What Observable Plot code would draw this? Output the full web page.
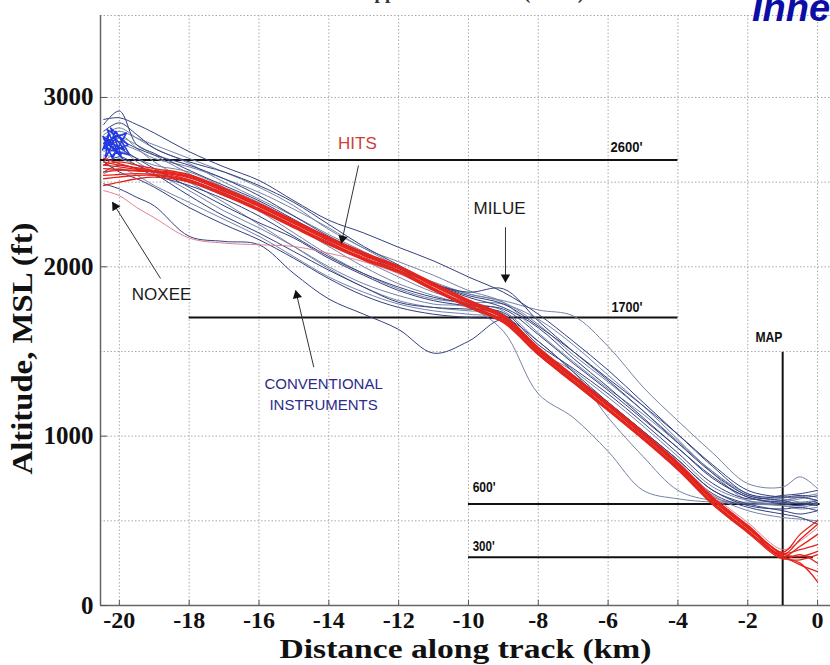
<!DOCTYPE html>
<html><head><meta charset="utf-8">
<script src="https://cdn.jsdelivr.net/npm/d3@7"></script>
<script src="https://cdn.jsdelivr.net/npm/@observablehq/plot@0.6"></script>
<style>
body{margin:0;background:#fff;overflow:hidden;width:830px;height:665px;position:relative}
#chart{position:absolute;left:0;top:0}
#toptitle{position:absolute;left:300px;top:-18px;font:bold 19px 'Liberation Serif',serif;color:#333;white-space:nowrap}
#corner{position:absolute;left:752px;top:-13px;font:italic bold 38px 'Liberation Sans',Arial,sans-serif;color:#0c0ca6;white-space:nowrap}
</style></head>
<body>
<div id="chart"></div>
<div id="toptitle">Missed Approach Altitudes (HIGS)</div>
<div id="corner">Inner</div>
<script>
// ---------------- data ----------------
const distKm = [-20.45, -20, -19.5, -19, -18, -17, -16, -15, -14, -13, -12, -11, -10, -9, -8, -7, -6, -5, -4, -3, -2, -1, -0.5, 0];

const conventionalTracks = [
  [2870, 2880, 2840, 2790, 2680, 2590, 2510, 2390, 2275, 2200, 2115, 2035, 1940, 1850, 1720, 1560, 1390, 1200, 1010, 820, 660, 640, 650, 640],
  [2760, 2800, 2760, 2720, 2640, 2560, 2470, 2360, 2220, 2110, 2000, 1900, 1840, 1800, 1745, 1710, 1530, 1290, 1090, 900, 720, 700, 760, 690],
  [2700, 2740, 2700, 2660, 2600, 2520, 2420, 2300, 2180, 2080, 1990, 1900, 1850, 1870, 1680, 1500, 1330, 1150, 960, 780, 650, 620, 600, 620],
  [2650, 2700, 2620, 2560, 2450, 2330, 2230, 2120, 2000, 1900, 1830, 1780, 1760, 1620, 1250, 1110, 910, 680, 630, 610, 600, 590, 580, 600],
  [2490, 2460, 2410, 2360, 2180, 2150, 2130, 1960, 1810, 1720, 1630, 1490, 1560, 1690, 1560, 1380, 1200, 1030, 860, 680, 600, 560, 540, 560],
  [2720, 2780, 2700, 2620, 2500, 2380, 2250, 2120, 1990, 1880, 1800, 1760, 1740, 1720, 1500, 1380, 1110, 880, 680, 620, 610, 620, 640, 620],
  [2800, 2850, 2780, 2700, 2620, 2560, 2480, 2380, 2250, 2120, 2010, 1900, 1820, 1760, 1640, 1460, 1290, 1110, 930, 760, 640, 610, 600, 590],
  [2620, 2680, 2640, 2600, 2560, 2470, 2380, 2270, 2150, 2040, 1940, 1850, 1790, 1740, 1560, 1390, 1230, 1060, 880, 700, 620, 600, 610, 620],
  [2560, 2600, 2580, 2540, 2480, 2400, 2300, 2180, 2060, 1960, 1880, 1820, 1780, 1720, 1520, 1360, 1200, 1030, 860, 680, 590, 570, 580, 560],
  [2680, 2720, 2690, 2640, 2590, 2520, 2440, 2340, 2230, 2110, 2030, 1950, 1860, 1790, 1610, 1440, 1280, 1130, 960, 790, 650, 630, 610, 600],
  [2600, 2650, 2600, 2550, 2420, 2300, 2200, 2090, 1980, 1880, 1790, 1760, 1750, 1730, 1540, 1400, 1250, 1080, 900, 720, 630, 650, 660, 680],
  [2660, 2640, 2600, 2560, 2500, 2420, 2340, 2240, 2120, 2000, 1900, 1830, 1770, 1700, 1500, 1330, 1180, 1000, 820, 650, 560, 520, 510, 500],
  [2750, 2700, 2640, 2580, 2470, 2360, 2260, 2170, 2050, 1950, 1860, 1800, 1770, 1750, 1600, 1430, 1270, 1100, 930, 750, 640, 600, 590, 610],
  [2550, 2580, 2540, 2480, 2380, 2280, 2180, 2060, 1940, 1850, 1780, 1740, 1720, 1690, 1480, 1320, 1160, 990, 800, 640, 600, 610, 630, 650],
  [2840, 2920, 2720, 2670, 2570, 2480, 2390, 2280, 2170, 2070, 1980, 1900, 1830, 1780, 1650, 1500, 1340, 1180, 1010, 830, 680, 640, 640, 620],
  [2700, 2760, 2720, 2660, 2550, 2440, 2330, 2200, 2070, 1960, 1870, 1810, 1790, 1780, 1690, 1540, 1360, 1180, 980, 780, 620, 590, 570, 580],
  [2620, 2560, 2520, 2470, 2350, 2250, 2160, 2050, 1930, 1830, 1760, 1720, 1700, 1680, 1520, 1350, 1190, 1020, 840, 660, 580, 540, 520, 480],
  [2780, 2820, 2760, 2700, 2610, 2500, 2400, 2300, 2190, 2090, 1990, 1910, 1840, 1790, 1660, 1480, 1320, 1150, 970, 790, 660, 620, 640, 660]
];

const hitsTracks = [
  [2600, 2590, 2575, 2565, 2530, 2450, 2360, 2260, 2160, 2070, 1995, 1890, 1790, 1700, 1510, 1345, 1180, 1010, 830, 625, 460, 300, 390, 480],
  [2540, 2545, 2550, 2545, 2510, 2430, 2340, 2240, 2140, 2050, 1975, 1870, 1770, 1680, 1490, 1325, 1160, 990, 810, 605, 440, 285, 250, 140],
  [2620, 2600, 2585, 2570, 2540, 2460, 2370, 2270, 2170, 2080, 2000, 1900, 1800, 1710, 1520, 1355, 1190, 1020, 840, 635, 470, 310, 330, 360],
  [2520, 2530, 2540, 2540, 2505, 2425, 2335, 2235, 2135, 2045, 1970, 1865, 1765, 1675, 1485, 1320, 1155, 985, 805, 600, 435, 280, 270, 300],
  [2580, 2575, 2565, 2560, 2525, 2445, 2355, 2255, 2155, 2065, 1990, 1885, 1785, 1695, 1505, 1340, 1175, 1005, 825, 620, 455, 295, 240, 200],
  [2640, 2610, 2580, 2560, 2515, 2435, 2345, 2245, 2145, 2055, 1980, 1875, 1775, 1685, 1495, 1330, 1165, 995, 815, 610, 445, 290, 350, 420],
  [2480, 2500, 2520, 2530, 2500, 2420, 2330, 2230, 2130, 2040, 1965, 1860, 1760, 1670, 1480, 1315, 1150, 980, 800, 595, 430, 275, 300, 250],
  [2560, 2570, 2570, 2560, 2535, 2455, 2365, 2265, 2165, 2075, 2000, 1895, 1795, 1705, 1515, 1350, 1185, 1015, 835, 630, 465, 305, 290, 320],
  [2450, 2420, 2350, 2290, 2170, 2140, 2130, 2120, 2080, 2030, 1960, 1860, 1760, 1680, 1500, 1340, 1180, 1020, 850, 650, 490, 330, 380, 460],
  [2600, 2620, 2600, 2580, 2545, 2465, 2375, 2275, 2175, 2085, 2005, 1905, 1805, 1715, 1525, 1360, 1195, 1025, 845, 640, 475, 315, 420, 500]
];

// dense blue scribble at the start of the conventional approaches
const blobKm  = [-20.48, -20.3, -20.4, -20.1, -20.45, -20.2, -19.9, -20.35, -20.05, -20.4, -19.8, -20.2, -20.47, -20.0, -19.75, -20.25, -19.95, -20.4, -19.85, -20.15, -20.45, -19.7, -20.1, -20.3, -19.9];
const blobAlt = [2690, 2790, 2640, 2770, 2730, 2650, 2750, 2810, 2680, 2740, 2790, 2640, 2770, 2700, 2720, 2820, 2660, 2750, 2690, 2770, 2700, 2660, 2800, 2720, 2640];

const xTicks = [-20, -18, -16, -14, -12, -10, -8, -6, -4, -2, 0];
const yTicks = [0, 1000, 2000, 3000];
const yGrid = [500, 1000, 1500, 2000, 2500, 3000];

const refAlt = [2630, 1700, 600, 285];
const refStartKm = [-20.54, -18, -10, -10];
const refEndKm = [-4, -4, 0.07, -0.12];
const refLabel = ["2600'", "1700'", "600'", "300'"];
const refLabelKm = [-5.93, -5.9, -9.88, -9.88];
const refLabelAlt = [2705, 1760, 697, 348];

const mapKm = -1.0, mapTopAlt = 1495, mapLabelKm = -1.78, mapLabelAlt = 1583;

const noteText = ["HITS", "MILUE", "NOXEE", "CONVENTIONAL", "INSTRUMENTS"];
const noteKm = [-13.18, -9.11, -18.79, -14.15, -14.15];
const noteAlt = [2728, 2344, 1837, 1305, 1181];

const arrowFromKm = [-13.15, -8.94, -18.82, -14.43];
const arrowFromAlt = [2598, 2234, 1931, 1407];
const arrowToKm = [-13.64, -8.94, -20.2, -14.95];
const arrowToAlt = [2138, 1909, 2382, 1860];

const xTitle = "Distance along track (km)";
const yTitle = "Altitude, MSL (ft)";

// ---------------- layout ----------------
const W = 830, H = 665, mL = 100, mR = 0, mT = 15, mB = 60;
const xDomain = [-20.54, 0.37], yDomain = [0, 3484];
const kx = (W - mL - mR) / (xDomain[1] - xDomain[0]);
const ky = (H - mT - mB) / (yDomain[1] - yDomain[0]);

const toRows = (tracks) => tracks.flatMap((alts, i) => alts.map((a, j) => ({x: distKm[j], y: a, id: i})));
const convRows = toRows(conventionalTracks);
const hitsRows = toRows(hitsTracks);
const blobRows = blobKm.map((x, i) => ({x, y: blobAlt[i]}));
const refs = refAlt.map((a, i) => ({alt: a, x1: refStartKm[i], x2: refEndKm[i], label: refLabel[i], lx: refLabelKm[i], ly: refLabelAlt[i]}));
const notes = noteText.map((t, i) => ({t, x: noteKm[i], y: noteAlt[i]}));
const arrows = arrowFromKm.map((x1, i) => {
  const x2 = arrowToKm[i], y1 = arrowFromAlt[i], y2 = arrowToAlt[i];
  const dx = (x2 - x1) * kx, dy = -(y2 - y1) * ky;
  const len = Math.hypot(dx, dy), ux = dx / len, uy = dy / len;
  const back = 5;
  return {x1, y1, x2, y2,
    hx: x2 - ux * back / kx, hy: y2 + uy * back / ky,
    rot: Math.atan2(ux, -uy) * 180 / Math.PI};
});

const serif = "'Liberation Serif', 'Times New Roman', serif";
const sans = "'Liberation Sans', Arial, sans-serif";

const chart = Plot.plot({
  width: W, height: H,
  marginLeft: mL, marginRight: mR, marginTop: mT, marginBottom: mB,
  x: {domain: xDomain},
  y: {domain: yDomain},
  style: {background: "#fff", overflow: "visible"},
  marks: [
    Plot.gridX(xTicks, {stroke: "#aaa", strokeOpacity: 1, strokeDasharray: "1.5,2"}),
    Plot.gridY(yGrid, {stroke: "#aaa", strokeOpacity: 1, strokeDasharray: "1.5,2"}),
    Plot.ruleY([yDomain[1]], {stroke: "#aaa", strokeDasharray: "1.5,2"}),
    Plot.ruleX([xDomain[0]], {stroke: "#666", strokeWidth: 1.5}),
    Plot.ruleY([0], {stroke: "#666", strokeWidth: 1.5}),
    Plot.ruleX(xTicks, {y1: 0, y2: 30, stroke: "#555"}),
    Plot.ruleY(yTicks, {x1: xDomain[0], x2: xDomain[0] + 0.2, stroke: "#555"}),
    Plot.axisX(xTicks, {tickSize: 0, tickPadding: 5, fontSize: 24, fontWeight: "bold", fontFamily: serif, fill: "#111", label: null, tickFormat: d => String(d)}),
    Plot.axisY(yTicks, {tickSize: 0, tickPadding: 7, fontSize: 25, fontWeight: "bold", fontFamily: serif, fill: "#111", label: null, tickFormat: d => String(d)}),
    Plot.ruleY(refs, {y: "alt", x1: "x1", x2: "x2", stroke: "#111", strokeWidth: 2}),
    Plot.ruleX([mapKm], {y1: 0, y2: mapTopAlt, stroke: "#111", strokeWidth: 2}),
    Plot.line(convRows.filter(d => d.id % 2 === 1), {x: "x", y: "y", z: "id", stroke: "#7483a6", strokeWidth: 1, curve: "catmull-rom"}),
    Plot.line(convRows.filter(d => d.id % 2 === 0), {x: "x", y: "y", z: "id", stroke: "#34407f", strokeWidth: 1, curve: "catmull-rom"}),
    Plot.line(blobRows, {x: "x", y: "y", stroke: "#2238e0", strokeWidth: 1.5}),
    Plot.line(hitsRows.filter(d => d.id === 8), {x: "x", y: "y", stroke: "#d9768a", strokeWidth: 0.9, curve: "catmull-rom"}),
    Plot.line(hitsRows.filter(d => d.id !== 8), {x: "x", y: "y", z: "id", stroke: "#e4241c", strokeWidth: 1.3, curve: "catmull-rom"}),
    Plot.link(arrows, {x1: "x1", y1: "y1", x2: "x2", y2: "y2", stroke: "#333", strokeWidth: 1}),
    Plot.dot(arrows, {x: "hx", y: "hy", rotate: "rot", symbol: "triangle", r: 3.5, fill: "#111", stroke: "none"}),
    Plot.text(notes, {x: "x", y: "y", text: "t", fontSize: d => d.t.length > 5 ? 15 : 17, fontFamily: sans,
      fill: d => d.t === "HITS" ? "#cf3d38" : (d.t.length > 5 ? "#2c2c8c" : "#1a1a1a")}),
    Plot.text(refs, {x: "lx", y: "ly", text: "label", textAnchor: "start", fontSize: 15, fontWeight: "bold", fontFamily: sans, fill: "#111"}),
    Plot.text(["MAP"], {x: mapLabelKm, y: mapLabelAlt, textAnchor: "start", fontSize: 15, fontWeight: "bold", fontFamily: sans, fill: "#111"}),
    Plot.text([xTitle], {frameAnchor: "bottom", dy: 44, lineAnchor: "middle", textAnchor: "middle", fontSize: 27, fontWeight: "bold", fontFamily: serif, fill: "#111"}),
    Plot.text([yTitle], {frameAnchor: "left", dx: -78, dy: 38, rotate: -90, lineAnchor: "middle", textAnchor: "middle", fontSize: 29, fontWeight: "bold", fontFamily: serif, fill: "#111"})
  ]
});

// condense some texts to the widths seen in the picture
const widths = {[xTitle]: 372, [yTitle]: 252, "2600'": 32, "1700'": 31, "600'": 23, "300'": 22, "MAP": 27};
chart.querySelectorAll("text").forEach(t => {
  const w = widths[t.textContent];
  if (w) { t.setAttribute("textLength", w); t.setAttribute("lengthAdjust", "spacingAndGlyphs"); }
});
document.getElementById("chart").appendChild(chart);
</script>
</body></html>
